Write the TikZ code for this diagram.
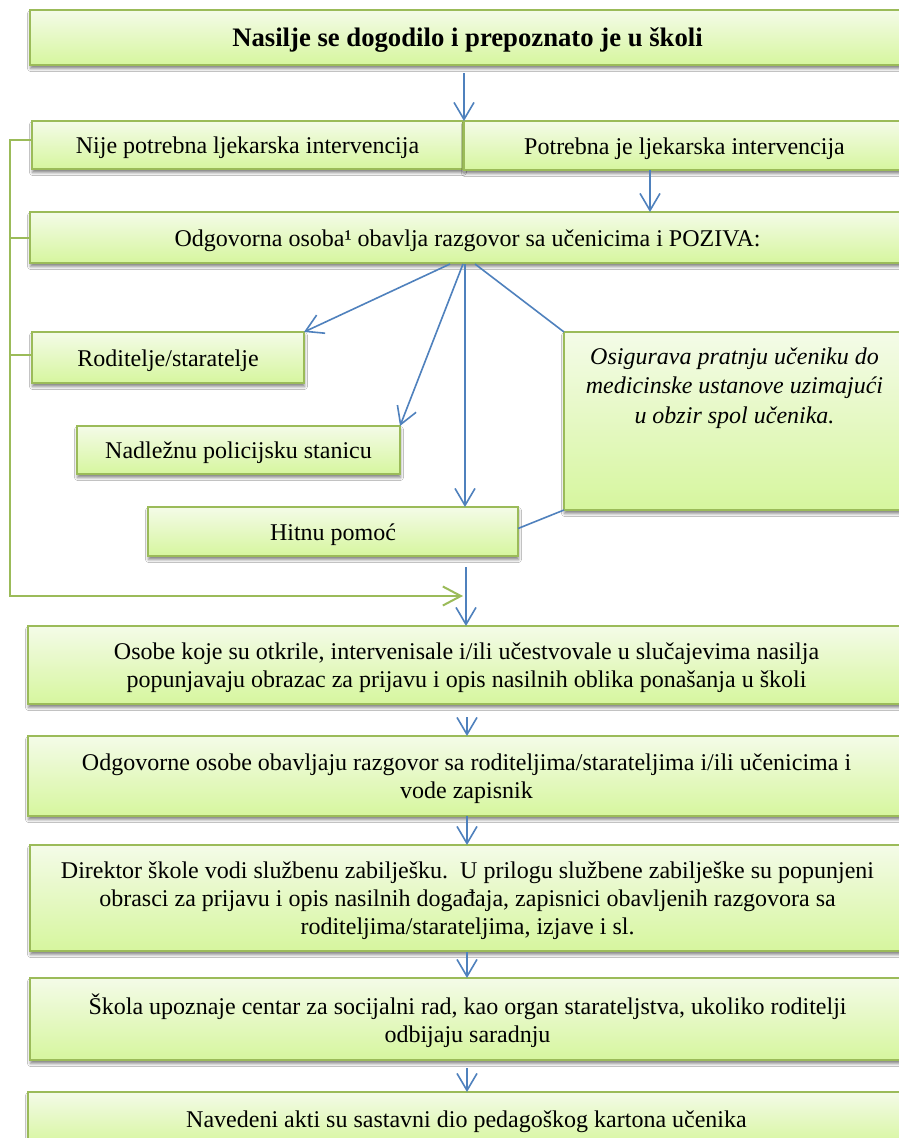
\documentclass[tikz,border=0pt]{standalone}
\usepackage{fontspec}
\setmainfont{Liberation Serif}
\usetikzlibrary{arrows.meta,shadows.blur}
\definecolor{gborder}{RGB}{155,187,89}
\definecolor{gtop}{RGB}{244,251,232}
\definecolor{gbot}{RGB}{214,246,158}
\definecolor{barrowc}{RGB}{79,129,189}
\newcommand\lt[1]{\raisebox{-3pt}[\height][\depth]{\begin{tabular}{@{}c@{}}#1\end{tabular}}}
\tikzset{
  box/.style={draw=gborder, line width=2.5pt, top color=gtop, bottom color=gbot,
    inner sep=0pt, outer sep=0pt, align=center,
    font=\fontsize{24}{28}\selectfont,
    blur shadow={shadow xshift=0.5pt, shadow yshift=-3.5pt, shadow blur radius=3pt, shadow opacity=50}},
  txt/.style={inner sep=0pt, align=center, font=\fontsize{24}{29.5}\selectfont},
  barrow/.style={draw=barrowc, line width=1.6pt, -{Straight Barb[length=17pt,width=20pt,line width=1.6pt]}},
  bline/.style={draw=barrowc, line width=1.6pt},
  gline/.style={draw=gborder, line width=2pt},
  garrow/.style={draw=gborder, line width=2pt, -{Straight Barb[length=18pt,width=19pt,line width=2pt]}}
}
\begin{document}
\begin{tikzpicture}[x=1pt,y=-1pt]
\useasboundingbox (0,0) rectangle (899,1138);
\clip (0,0) rectangle (899,1138);
\fill[white] (0,0) rectangle (899,1138);
% boxes
\node[box, minimum width=875pt, minimum height=55pt, font=\fontsize{26.7}{30}\selectfont\bfseries] (top) at (467.5,37.5) {\lt{Nasilje se dogodilo i prepoznato je u školi}};
\node[box, minimum width=431pt, minimum height=48pt] (nije) at (247.5,145) {\lt{Nije potrebna ljekarska intervencija}};
\node[box, minimum width=441pt, minimum height=49pt] (pot) at (684.5,145.5) {\lt{Potrebna je ljekarska intervencija}};
\node[box, minimum width=875pt, minimum height=51pt] (odg) at (467.5,237.5) {\lt{Odgovorna osoba¹ obavlja razgovor sa učenicima i POZIVA:}};
\node[box, minimum width=272pt, minimum height=51pt] (rod) at (168,357.5) {\lt{Roditelje/staratelje}};
\node[box, minimum width=323pt, minimum height=48pt] (nad) at (238.5,450) {\lt{Nadležnu policijsku stanicu}};
\node[box, minimum width=370pt, minimum height=49pt] (hit) at (333,531.5) {\lt{Hitnu pomoć}};
\node[box, minimum width=341pt, minimum height=178pt] (osig) at (734.5,421) {};
\node[txt, font=\fontsize{24}{29.5}\selectfont\itshape] (osigt) at (734.5,388) {Osigurava pratnju učeniku do\\ medicinske ustanove uzimajući\\ u obzir spol učenika.};
\node[box, minimum width=877pt, minimum height=78pt] (b5) at (466.5,665) {\lt{Osobe koje su otkrile, intervenisale i/ili učestvovale u slučajevima nasilja\\ popunjavaju obrazac za prijavu i opis nasilnih oblika ponašanja u školi}};
\node[box, minimum width=877pt, minimum height=80pt] (b6) at (466.5,776) {\lt{Odgovorne osobe obavljaju razgovor sa roditeljima/starateljima i/ili učenicima i\\ vode zapisnik}};
\node[box, minimum width=875pt, minimum height=106pt] (b7) at (467.5,898) {\lt{Direktor škole vodi službenu zabilješku.\ \ U prilogu službene zabilješke su popunjeni\\ obrasci za prijavu i opis nasilnih događaja, zapisnici obavljenih razgovora sa\\ roditeljima/starateljima, izjave i sl.}};
\node[box, minimum width=875pt, minimum height=82pt] (b8) at (467.5,1019) {\lt{Škola upoznaje centar za socijalni rad, kao organ starateljstva, ukoliko roditelji\\ odbijaju saradnju}};
\node[box, minimum width=877pt, minimum height=54pt] (b9) at (466.5,1119) {\lt{Navedeni akti su sastavni dio pedagoškog kartona učenika}};
% coordinates for free ends
\coordinate (a1) at (464,73);
\coordinate (a2) at (650,170);
\coordinate (f1) at (450,264);
\coordinate (f2) at (463,264);
\coordinate (f3) at (465,264);
\coordinate (f4) at (475,264);
\coordinate (h1) at (466,567);
\coordinate (gcorner) at (10,596);
\coordinate (gtip) at (463,596);
\coordinate (c5) at (467,717);
\coordinate (c6) at (467,816);
\coordinate (c7) at (467,952);
\coordinate (c8) at (467,1068);
% blue connectors
\draw[barrow] (a1) -- (a1 |- nije.north);
\draw[barrow] (a2) -- (a2 |- odg.north);
\draw[barrow] (f1) -- (rod.north east);
\draw[barrow] (f2) -- (nad.north east);
\draw[barrow] (f3) -- (f3 |- hit.north);
\draw[bline] (f4) -- (osig.north west);
\draw[bline] ([yshift=3pt]hit.east) -- (osig.south west);
\draw[barrow] (h1) -- (h1 |- b5.north);
\draw[barrow] (c5) -- (c5 |- b6.north);
\draw[barrow] (c6) -- (c6 |- b7.north);
\draw[barrow] (c7) -- (c7 |- b8.north);
\draw[barrow] (c8) -- (c8 |- b9.north);
% green connectors
\draw[garrow] ([yshift=5pt]nije.west) -| (gcorner) -- (gtip);
\draw[gline] (odg.west) -- (odg.west -| gcorner);
\draw[gline] ([yshift=3pt]rod.west) -- ([yshift=3pt]rod.west -| gcorner);
\end{tikzpicture}
\end{document}
